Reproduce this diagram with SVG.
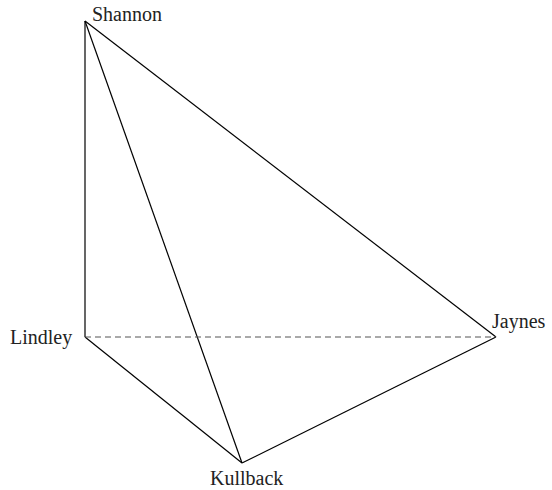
<svg xmlns="http://www.w3.org/2000/svg" width="552" height="490" viewBox="0 0 552 490">
<style>
.e{stroke:#000;stroke-width:1.2;fill:none}
.d{stroke-dasharray:6,4;stroke:#555}
text{font-family:"Liberation Serif","Times New Roman",serif;font-size:20px;fill:#222}
</style>
<rect width="552" height="490" fill="#fff"/>
<g id="edges">
<line class="e" x1="85" y1="21" x2="85" y2="337"/>
<line class="e" x1="85" y1="21" x2="242" y2="463"/>
<line class="e" x1="85" y1="21" x2="496" y2="337"/>
<line class="e" x1="85" y1="337" x2="242" y2="463"/>
<line class="e" x1="242" y1="463" x2="496" y2="337"/>
<line class="e d" x1="85" y1="337" x2="496" y2="337"/>
</g>
<g id="shannon"><text x="92" y="21">Shannon</text></g>
<g id="lindley"><text x="10" y="344">Lindley</text></g>
<g id="jaynes"><text x="492" y="328">Jaynes</text></g>
<g id="kullback"><text x="210" y="485">Kullback</text></g>
</svg>
